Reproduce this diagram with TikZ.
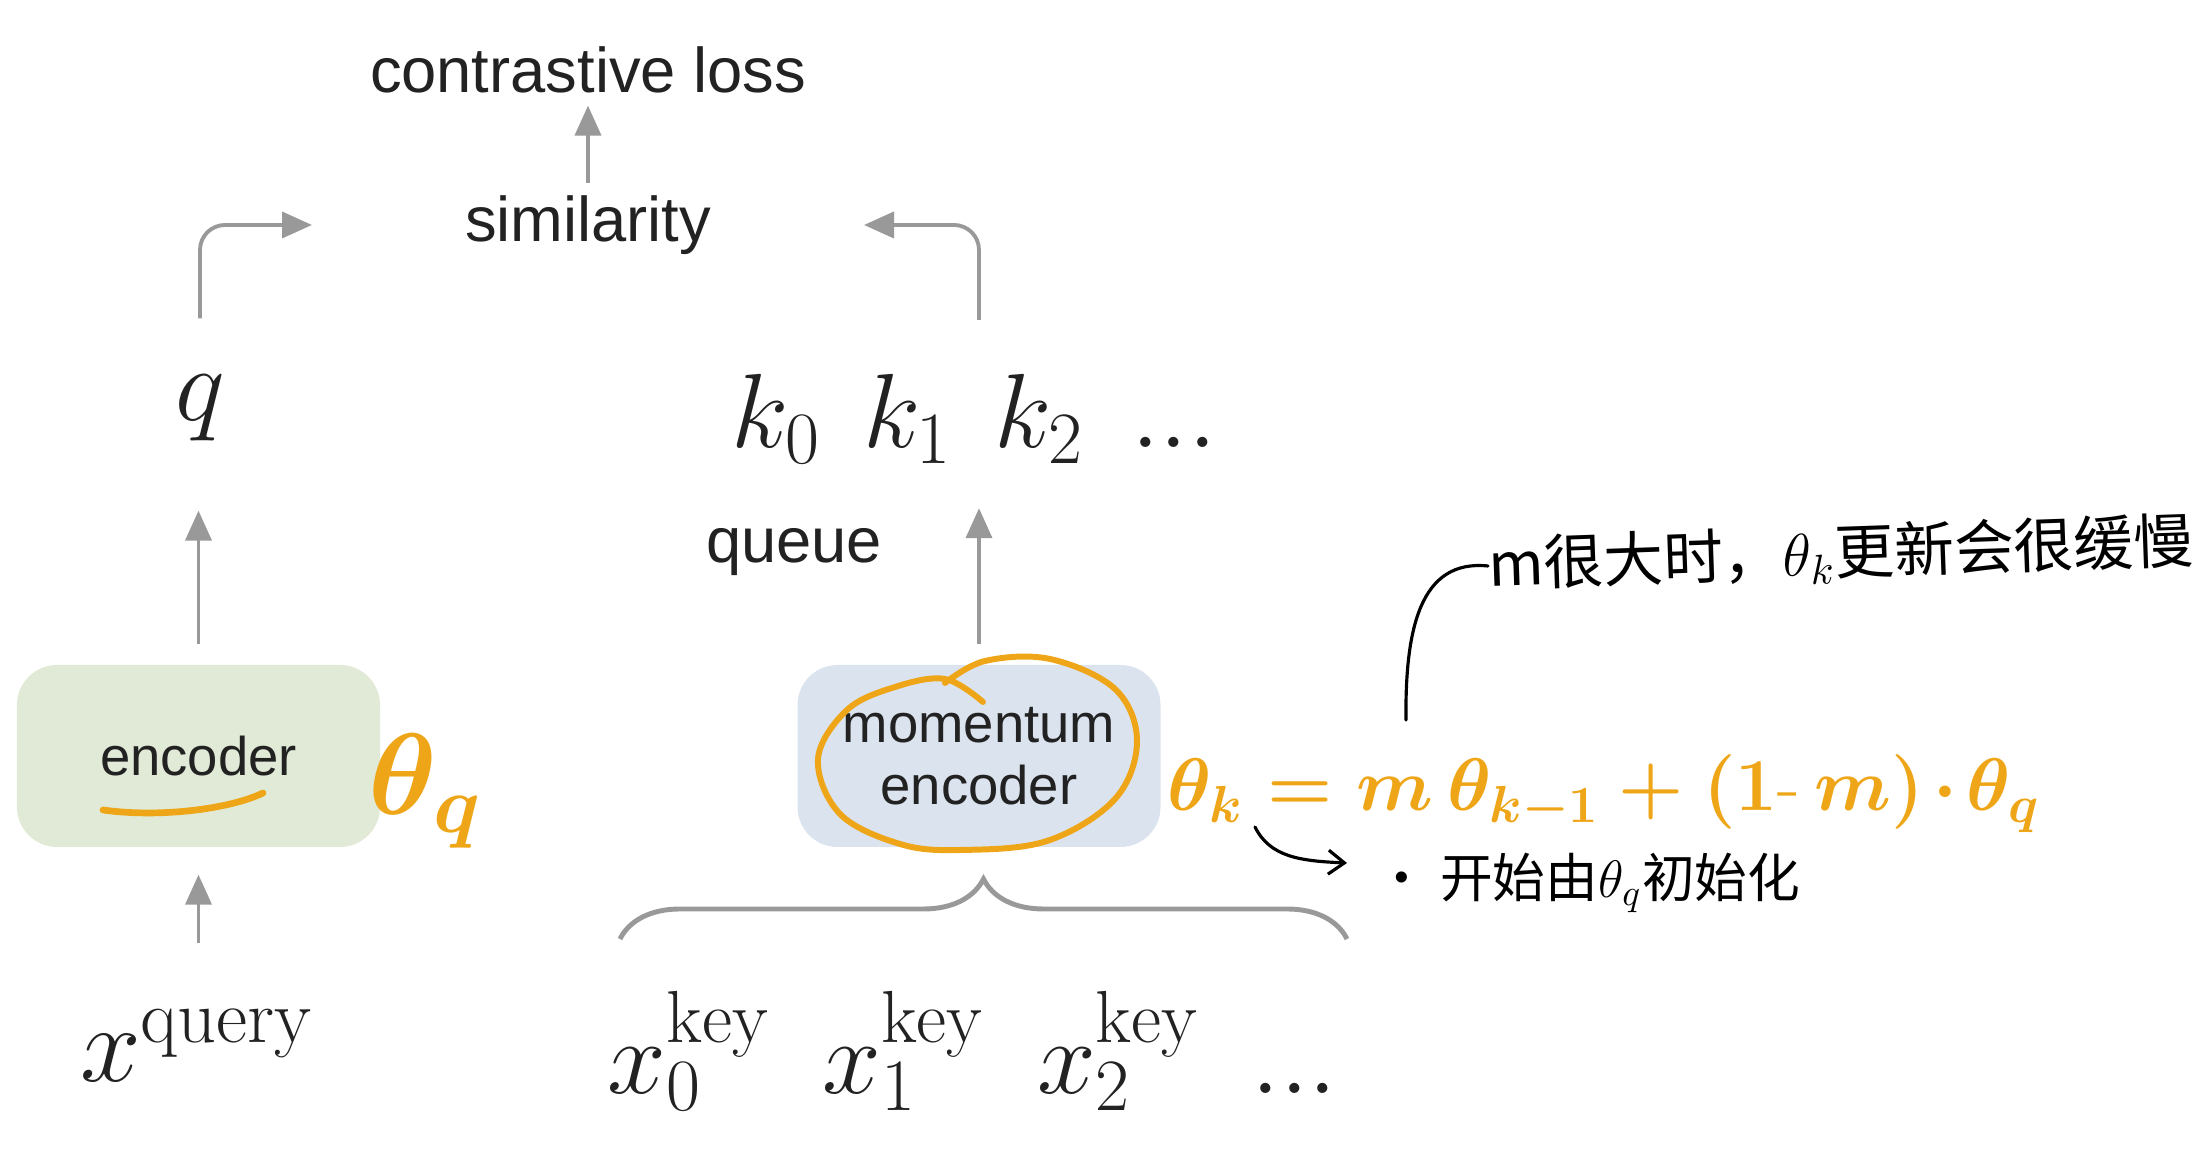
\RequirePackage{fix-cm}
\documentclass[tikz,border=0pt]{standalone}
\usepackage{fontspec}
\newfontfamily\labelfont{Liberation Sans}
\newfontfamily\cjk{Noto Sans CJK SC}
\usetikzlibrary{arrows.meta,positioning,decorations.pathreplacing}

\definecolor{flowgray}{RGB}{153,153,153}
\definecolor{inkdark}{RGB}{34,34,34}
\definecolor{encgreen}{RGB}{224,234,214}
\definecolor{encblue}{RGB}{219,227,238}
\definecolor{marker}{RGB}{238,166,24}

\begin{document}
\begin{tikzpicture}[
  x=1cm,
  y=1cm,
  >=Latex,
  txt/.style={font=\labelfont\fontsize{18}{21.6}\selectfont, text=inkdark},
  encbox/.style={rounded corners=4mm, minimum width=3.63cm, minimum height=1.82cm, align=center, font=\labelfont\fontsize{15.5}{17.8}\selectfont, text=inkdark},
  sym/.style={font=\fontsize{30}{36}\selectfont, text=inkdark, inner sep=0pt},
  flow/.style={-{Triangle[length=3mm, width=2.6mm]}, line width=1.1pt, draw=flowgray},
  brace/.style={decorate, decoration={brace, amplitude=6mm}, draw=flowgray, line width=1.4pt},
  hand/.style={draw=marker, line width=1.7pt, line cap=round, line join=round},
  handtext/.style={text=marker, inner sep=0pt},
  ink/.style={draw=black, line width=0.9pt, line cap=round},
  note/.style={font=\cjk\fontsize{17}{20}\selectfont, text=black, inner sep=0pt},
]

\useasboundingbox (0,0) rectangle (22.04,11.49);

% top: loss and similarity
\node[txt] (closs) at (5.88,10.79) {contrastive loss};
\node[txt] (simil) at (5.88,9.24) {similarity};
\draw[flow] (simil) -- (closs);

% embeddings
\node[sym] (q) at (2.00,7.41) {$q$};
\node[sym, anchor=west] (keys) at (7.31,7.30) {$k_0\hspace{0.4em}k_1\hspace{0.4em}k_2\hspace{0.45em}{.}{.}{.}$};
\node[txt] (queue) at (7.94,5.97) {queue};

% encoders
\node[encbox, fill=encgreen] (enc) at (1.985,3.93) {encoder};
\node[encbox, fill=encblue] (menc) at (9.79,3.93) {momentum\\encoder};

% inputs
\node[sym, font=\fontsize{31}{37}\selectfont] (xq) at (1.97,1.04) {$x^{\mathrm{query}}$};
\node[sym, anchor=west] (xkeys) at (6.07,0.98) {$x_0^{\mathrm{key}}\hspace{0.5em}x_1^{\mathrm{key}}\hspace{0.5em}x_2^{\mathrm{key}}\hspace{0.5em}{.}{.}{.}$};

\coordinate (simL) at (3.12,9.24);
\coordinate (simR) at (8.64,9.24);
\coordinate (braceL) at (6.20,2.10);
\coordinate (braceR) at (13.47,2.10);

\draw[flow, rounded corners=2.5mm, shorten <=5.6mm] (q.north) |- (simL);
\draw[flow, rounded corners=2.5mm, shorten <=5.4mm] (keys.north -| menc) |- (simR);
\draw[flow, shorten <=2mm, shorten >=6.9mm] (enc.north) -- (enc.north |- q.south);
\draw[flow, shorten <=2mm, shorten >=4.4mm] (menc.north) -- (menc.north |- keys.south);
\draw[flow, shorten <=6.5mm, shorten >=2.7mm] (xq.north -| enc) -- (enc.south);
\draw[brace] (braceL) -- (braceR);

% handwritten notes
\node[handtext, font=\fontsize{33}{40}\selectfont\boldmath, anchor=base west] (thq) at (3.68,3.34) {$\theta_q$};
\draw[hand, line width=1.9pt] (1.03,3.39) .. controls (1.6,3.31) and (2.3,3.40) .. (2.63,3.56);
\draw[hand] plot[smooth, tension=0.6] coordinates {(9.83,4.47) (9.45,4.70) (8.95,4.62) (8.47,4.39) (8.18,3.90) (8.40,3.35) (9.00,3.05) (9.60,2.99) (10.47,3.08) (11.15,3.50) (11.37,4.08) (11.15,4.60) (10.50,4.90) (9.85,4.88) (9.45,4.66)};

\node[handtext, font=\fontsize{21.2}{26}\selectfont\boldmath, anchor=base west] (update) at (11.67,3.38) {$\theta_k = m\,\theta_{k-1} + (1\mbox{-}\,m)\mkern2mu{\cdot}\mkern2mu\theta_q$};

\node[note, rotate=2, anchor=west] (noteA) at (14.88,5.83) {m很大时，$\theta_k$更新会很缓慢};
\node[note, font=\cjk\fontsize{15}{18}\selectfont, anchor=west] (noteB) at (13.75,2.66) {· 开始由$\theta_q$初始化};

\coordinate (mtop) at (14.06,4.29);
\coordinate (hookA) at (12.55,3.22);
\coordinate (hookB) at (13.47,2.86);
\draw[ink] (mtop) .. controls (14.05,5.20) and (14.20,5.90) .. (noteA.west);
\draw[ink, -{Straight Barb[length=1.6mm, width=2.4mm]}] (hookA) .. controls (12.70,2.92) and (13.00,2.88) .. (hookB);

\end{tikzpicture}
\end{document}
